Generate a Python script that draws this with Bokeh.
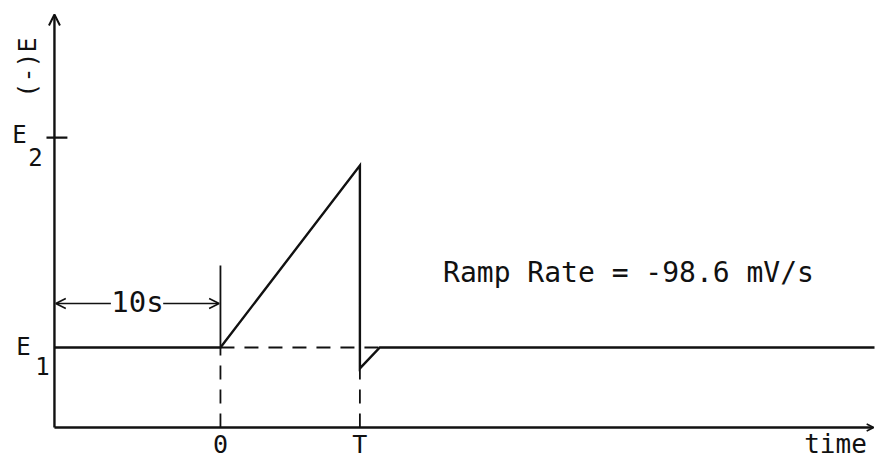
import math

from bokeh.plotting import figure
from bokeh.models import Range1d, Arrow, OpenHead, Label
from bokeh.embed import file_html
from bokeh.resources import INLINE

# Potential waveform: hold at E1, linear ramp, step back, short recovery, hold.
# Time in seconds (0 = start of ramp), potential in mV relative to E1.
hold_time = 10.0          # s of hold before the ramp
ramp_rate = 98.6          # ramp magnitude, mV/s
ramp_time = 8.4           # T, s
E1 = 0.0
E2 = 955.0
dip_E = -95.0             # undershoot right after the step back
recovery_time = 1.2       # s to come back to E1
end_time = 39.4

peak_E = E1 + ramp_rate * ramp_time

wave_t = [-hold_time, 0.0, ramp_time, ramp_time, ramp_time + recovery_time, end_time]
wave_E = [E1, E1, peak_E, dip_E, E1, E1]

tick_times = [0.0, ramp_time]
tick_labels = ["0", "T"]
rate_label = "Ramp Rate = -98.6 mV/s"
hold_label = "10s"

# frame extents
axis_floor = -364.0
axis_top = 1515.0
x_end = 39.35

FONT = "DejaVu Sans Mono"
INK = "#111111"

p = figure(width=875, height=458,
           x_range=Range1d(-13.25, 39.46), y_range=Range1d(-505, 1579),
           output_backend="svg", toolbar_location=None, min_border=0)
p.axis.visible = False
p.grid.visible = False
p.outline_line_color = None
p.background_fill_color = "white"
p.border_fill_color = "white"

# axes with open arrowheads
y0 = -hold_time
p.add_layout(Arrow(end=OpenHead(size=11, line_width=2, line_color=INK),
                   x_start=y0, y_start=axis_floor, x_end=y0, y_end=axis_top,
                   line_width=2.4, line_color=INK))
p.add_layout(Arrow(end=OpenHead(size=7, line_width=1.5, line_color=INK),
                   x_start=y0, y_start=axis_floor, x_end=x_end, y_end=axis_floor,
                   line_width=2.4, line_color=INK))

# E2 tick on the potential axis
p.segment(x0=[y0 - 0.48], y0=[E2], x1=[y0 + 0.78], y1=[E2], line_width=2.4, line_color=INK)

# reference level E1 and markers at 0 and T
p.segment(x0=[0.0], y0=[E1], x1=[ramp_time + recovery_time], y1=[E1],
          line_width=1.8, line_color=INK, line_dash="14 10")
p.segment(x0=tick_times, y0=[axis_floor, axis_floor], x1=tick_times, y1=[E1, dip_E],
          line_width=1.8, line_color=INK, line_dash="14 10")
p.segment(x0=[0.0], y0=[E1], x1=[0.0], y1=[373.0], line_width=1.8, line_color=INK)

# waveform
p.line(wave_t, wave_E, line_width=2.4, line_color=INK, line_join="miter")

# hold-duration dimension arrows
dim_y = 200.0
p.add_layout(Arrow(end=OpenHead(size=10, line_width=1.6, line_color=INK),
                   x_start=-6.6, y_start=dim_y, x_end=-hold_time + 0.08, y_end=dim_y,
                   line_width=1.6, line_color=INK))
p.add_layout(Arrow(end=OpenHead(size=10, line_width=1.6, line_color=INK),
                   x_start=-3.45, y_start=dim_y, x_end=-0.08, y_end=dim_y,
                   line_width=1.6, line_color=INK))


def label(x, y, text, size, angle=0.0, align="center", baseline="middle"):
    p.add_layout(Label(x=x, y=y, text=text, text_font=FONT,
                       text_font_size=f"{size}px", text_color=INK,
                       text_align=align, text_baseline=baseline, angle=angle))


label(-5.0, 209, hold_label, 29)
label(-11.63, 1274, "(-)E", 25, angle=math.pi / 2)
label(-12.11, 969, "E", 24)
label(-11.14, 869, "2", 24)
label(-11.87, 4, "E", 24)
label(-10.72, -82, "1", 24)
for t, s in zip(tick_times, tick_labels):
    label(t, -441, s, 25)
label(37.05, -441, "time", 26)
label(24.58, 341, rate_label, 28)

open("out.html", "w").write(file_html(p, INLINE))
